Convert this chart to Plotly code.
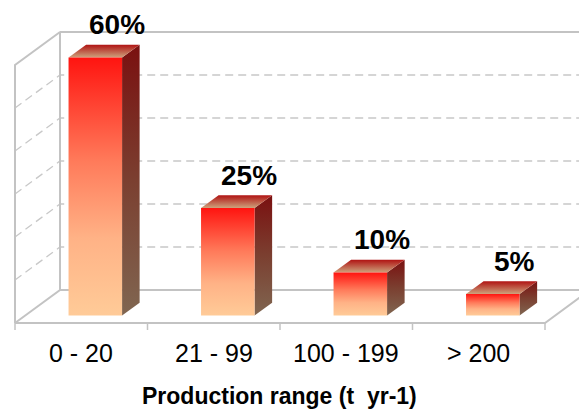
import plotly.graph_objects as go

# Share of producers by annual production class
categories = ["0 - 20", "21 - 99", "100 - 199", "> 200"]
shares = [60, 25, 10, 5]
grid_values = [10, 20, 30, 40, 50]
axis_max = 60
x_title = "Production range (t  yr-1)"

W, H = 579, 410
FONT = "Liberation Sans, Arial, sans-serif"

# Pseudo-3D layout: x in category-slot units, y in percent units
SLOT_PX = 132.5      # width of one category slot on the front floor edge
X0_PX = 15           # left end of the floor's front edge
ZERO_PX = 290        # pixel row of 0% on the back wall
PX_PER_PCT = 4.3     # vertical pixels per percent

x_range = [-X0_PX / SLOT_PX, (W - X0_PX) / SLOT_PX]
y_range = [-(H - ZERO_PX) / PX_PER_PCT, ZERO_PX / PX_PER_PCT]

DEPTH_DX = 45 / SLOT_PX        # horizontal shift of the full floor depth
DEPTH_DY = 33 / PX_PER_PCT     # vertical shift of the full floor depth

BAR_FRONT = 0.227   # depth fraction of the bar front faces (0 = front, 1 = back wall)
BAR_BACK = 0.617    # depth fraction of the bar back faces
BAR_INSET = 0.327   # bar left edge within its slot
BAR_WIDTH = 0.404


def proj(u, v, d):
    """Project (slot position, value, depth) onto the 2D axes."""
    return u + d * DEPTH_DX, v - (1 - d) * DEPTH_DY


fig = go.Figure()

WALL = "#C3C3C3"
GRID = "#C8C8C8"


def add_path(points, color, width, dash="solid"):
    xs, ys = zip(*[proj(*p) for p in points])
    fig.add_trace(go.Scatter(x=list(xs), y=list(ys), mode="lines",
                             line=dict(color=color, width=width, dash=dash),
                             hoverinfo="skip", showlegend=False))


n = len(categories)

# dashed gridlines across the left wall and back wall
for g in grid_values:
    add_path([(0, g, 0), (0, g, 1), (n, g, 1)], GRID, 1.3, dash="8px,5px")

# left wall outline
add_path([(0, 0, 0), (0, axis_max, 0), (0, axis_max, 1), (0, 0, 1), (0, 0, 0)], WALL, 2)
# back wall top and bottom edges
add_path([(0, axis_max, 1), (n, axis_max, 1)], WALL, 2)
add_path([(0, 0, 1), (n, 0, 1)], WALL, 2)
# floor front and right edges
add_path([(0, 0, 0), (n, 0, 0), (n, 0, 1)], WALL, 2)
# category ticks under the floor's front edge
tick_len = 7 / PX_PER_PCT
for k in range(n + 1):
    add_path([(k, 0, 0), (k, -tick_len, 0)], WALL, 1.5)


def add_face(points, colorscale):
    xs, ys = zip(*[proj(*p) for p in points])
    fig.add_trace(go.Scatter(x=list(xs) + [xs[0]], y=list(ys) + [ys[0]],
                             mode="lines", fill="toself",
                             line=dict(width=0, color="rgba(0,0,0,0)"),
                             fillgradient=dict(type="vertical", colorscale=colorscale),
                             hoverinfo="skip", showlegend=False))


FRONT_CS = [[0, "#FFCB98"], [0.3, "#FFB286"], [0.6, "#FF7A5A"], [1, "#FF1410"]]
SIDE_CS = [[0, "#806651"], [0.5, "#7B3F30"], [1, "#7A1010"]]
TOP_CS = [[0, "#CDA27C"], [1, "#B01212"]]

for i, (cat, v) in enumerate(zip(categories, shares)):
    l = i + BAR_INSET
    r = l + BAR_WIDTH
    # right side face
    add_face([(r, 0, BAR_FRONT), (r, v, BAR_FRONT), (r, v, BAR_BACK), (r, 0, BAR_BACK)], SIDE_CS)
    # top face
    add_face([(l, v, BAR_FRONT), (r, v, BAR_FRONT), (r, v, BAR_BACK), (l, v, BAR_BACK)], TOP_CS)
    # front face
    add_face([(l, 0, BAR_FRONT), (r, 0, BAR_FRONT), (r, v, BAR_FRONT), (l, v, BAR_FRONT)], FRONT_CS)

    # value label above the bar
    lx, ly = proj((l + r) / 2, v, BAR_BACK)
    fig.add_annotation(x=lx, y=ly, text=f"{v}%", showarrow=False,
                       xanchor="center", yanchor="middle", xshift=4, yshift=20,
                       font=dict(family=FONT, size=28, color="#000000", weight="bold"))

    # category label under the floor
    cx, cy = proj(i + 0.5, 0, 0)
    fig.add_annotation(x=cx, y=cy, text=cat, showarrow=False,
                       xanchor="center", yanchor="middle", yshift=-30,
                       font=dict(family=FONT, size=25, color="#000000"))

fig.add_annotation(xref="paper", yref="paper", x=279 / W, y=1 - 396 / H,
                   text=x_title, showarrow=False, xanchor="center", yanchor="middle",
                   font=dict(family=FONT, size=23, color="#000000", weight="bold"))

fig.update_xaxes(range=x_range, visible=False, fixedrange=True)
fig.update_yaxes(range=y_range, visible=False, fixedrange=True)
fig.update_layout(width=W, height=H, margin=dict(l=0, r=0, t=0, b=0),
                  paper_bgcolor="white", plot_bgcolor="white",
                  showlegend=False, hovermode=False)

fig.write_html("out.html")
